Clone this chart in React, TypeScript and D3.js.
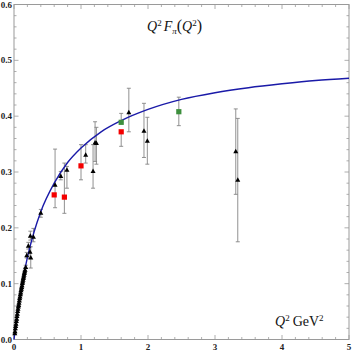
import React from 'react';
import * as d3 from 'd3';

// theory curve (Q^2 on x, Q^2 F_pi on y)
const curveQ2 = [0, 0.05, 0.1, 0.2, 0.3, 0.4, 0.6, 0.8, 1.0, 1.3, 1.6, 2.0, 2.5, 3.0, 3.5, 4.0, 4.5, 5.0];
const curveVal = [0, 0.047, 0.086, 0.147, 0.193, 0.229, 0.28, 0.317, 0.343, 0.372, 0.392, 0.412, 0.43, 0.442, 0.451, 0.458, 0.464, 0.468];

// black triangles: q2, value, error low, error high
const triQ2 = [0.012, 0.015, 0.02, 0.025, 0.03, 0.035, 0.04, 0.045, 0.05, 0.055, 0.06, 0.065, 0.07, 0.075, 0.08, 0.085, 0.09,
  0.095, 0.1, 0.105, 0.11, 0.115, 0.12, 0.125, 0.13, 0.135, 0.14, 0.145, 0.15, 0.155, 0.16, 0.165, 0.175,
  0.19, 0.214, 0.239, 0.25, 0.244, 0.29, 0.4, 0.613, 0.698, 0.79, 1.07, 1.18, 1.21, 1.23, 1.714, 1.94, 1.99, 3.31, 3.34];
const triVal = [0.011, 0.015, 0.02, 0.024, 0.028, 0.033, 0.037, 0.042, 0.046, 0.051, 0.055, 0.059, 0.062, 0.066, 0.07, 0.074, 0.077,
  0.081, 0.084, 0.088, 0.091, 0.094, 0.097, 0.101, 0.104, 0.107, 0.11, 0.113, 0.116, 0.119, 0.122, 0.125, 0.13,
  0.151, 0.168, 0.157, 0.147, 0.186, 0.184, 0.227, 0.277, 0.293, 0.304, 0.331, 0.302, 0.353, 0.352, 0.407, 0.374, 0.356, 0.337, 0.286];
const triLo = [0.01, 0.013, 0.018, 0.022, 0.026, 0.031, 0.035, 0.04, 0.044, 0.049, 0.053, 0.057, 0.06, 0.064, 0.068, 0.072, 0.075,
  0.079, 0.082, 0.086, 0.089, 0.092, 0.095, 0.099, 0.102, 0.105, 0.108, 0.111, 0.114, 0.117, 0.12, 0.122, 0.127,
  0.146, 0.162, 0.145, 0.128, 0.178, 0.175, 0.219, 0.236, 0.286, 0.271, 0.316, 0.271, 0.319, 0.314, 0.372, 0.326, 0.314, 0.26, 0.175];
const triHi = [0.012, 0.017, 0.022, 0.026, 0.03, 0.035, 0.039, 0.044, 0.048, 0.053, 0.057, 0.061, 0.064, 0.068, 0.072, 0.076, 0.079,
  0.083, 0.086, 0.09, 0.093, 0.096, 0.099, 0.103, 0.106, 0.109, 0.112, 0.115, 0.118, 0.121, 0.124, 0.128, 0.133,
  0.156, 0.174, 0.166, 0.166, 0.194, 0.199, 0.233, 0.341, 0.301, 0.31, 0.349, 0.349, 0.39, 0.38, 0.45, 0.423, 0.398, 0.413, 0.396];

// red squares
const redQ2 = [0.6, 0.752, 1.0, 1.6];
const redVal = [0.259, 0.255, 0.311, 0.372];
const redLo = [0.259, 0.226, 0.286, 0.346];
const redHi = [0.259, 0.316, 0.349, 0.372];

// green squares
const greenQ2 = [1.6, 2.46];
const greenVal = [0.389, 0.408];
const greenLo = [0.389, 0.383];
const greenHi = [0.405, 0.434];

const xTicks = [0, 1, 2, 3, 4, 5];
const yTicks = [0, 0.1, 0.2, 0.3, 0.4, 0.5, 0.6];

const W = 352;
const H = 352;
const left = 14, right = 349, top = 4.5, bottom = 339.5;
const frameColor = '#9a9a9a';
const barColor = '#858585';
const serif = '"Liberation Serif", "DejaVu Serif", serif';

export default function App() {
  const x = d3.scaleLinear().domain([0, 5]).range([left, right]);
  const y = d3.scaleLinear().domain([0, 0.6]).range([bottom, top]);

  const curvePts: [number, number][] = curveQ2.map((q, i) => [q, curveVal[i]]);
  const line = d3.line<[number, number]>()
    .x((d) => x(d[0]))
    .y((d) => y(d[1]))
    .curve(d3.curveMonotoneX);

  const xMinor = d3.range(0, 5.001, 0.2);
  const yMinor = d3.range(0, 0.6001, 0.02);

  const errorBar = (q: number, lo: number, hi: number, key: string) => {
    if (hi - lo < 0.001) return null;
    const cx = x(q);
    return (
      <g key={key} stroke={barColor} strokeWidth={0.9}>
        <line x1={cx} x2={cx} y1={y(lo)} y2={y(hi)} />
        <line x1={cx - 2} x2={cx + 2} y1={y(lo)} y2={y(lo)} />
        <line x1={cx - 2} x2={cx + 2} y1={y(hi)} y2={y(hi)} />
      </g>
    );
  };

  const tri = (q: number, v: number) => {
    const cx = x(q), cy = y(v), s = 2.5;
    return `M${cx},${cy - s} L${cx + s},${cy + s * 0.8} L${cx - s},${cy + s * 0.8} Z`;
  };

  return (
    <svg width={W} height={H} style={{ position: 'absolute', left: 0, top: 0, background: '#fff' }}>
      {/* frame */}
      <rect x={left} y={top} width={right - left} height={bottom - top} fill="none" stroke={frameColor} strokeWidth={1} />

      {/* x ticks, bottom and top, inward */}
      {xMinor.map((t) => {
        const major = Math.abs(t - Math.round(t)) < 1e-6;
        const len = major ? 4.5 : 2.5;
        return (
          <g key={'xt' + t} stroke={frameColor} strokeWidth={0.8}>
            <line x1={x(t)} x2={x(t)} y1={bottom} y2={bottom - len} />
            <line x1={x(t)} x2={x(t)} y1={top} y2={top + len} />
          </g>
        );
      })}
      {/* y ticks, left and right, inward */}
      {yMinor.map((t) => {
        const major = Math.abs(t * 10 - Math.round(t * 10)) < 1e-6;
        const len = major ? 4.5 : 2.5;
        return (
          <g key={'yt' + t} stroke={frameColor} strokeWidth={0.8}>
            <line x1={left} x2={left + len} y1={y(t)} y2={y(t)} />
            <line x1={right} x2={right - len} y1={y(t)} y2={y(t)} />
          </g>
        );
      })}

      {/* tick labels */}
      {xTicks.map((t) => (
        <text key={'xl' + t} x={x(t)} y={350} textAnchor="middle" fontFamily={serif} fontSize={9} fontWeight="bold" fill="#222">
          {t}
        </text>
      ))}
      {yTicks.map((t) => (
        <text key={'yl' + t} x={left - 2} y={y(t) + 3} textAnchor="end" fontFamily={serif} fontSize={9} fontWeight="bold" fill="#222">
          {t.toFixed(1)}
        </text>
      ))}

      {/* error bars */}
      {triQ2.map((q, i) => errorBar(q, triLo[i], triHi[i], 'te' + i))}
      {redQ2.map((q, i) => errorBar(q, redLo[i], redHi[i], 're' + i))}
      {greenQ2.map((q, i) => errorBar(q, greenLo[i], greenHi[i], 'ge' + i))}

      {/* theory curve */}
      <path d={line(curvePts) || ''} fill="none" stroke="#1a1aa8" strokeWidth={1.4} />

      {/* markers */}
      {redQ2.map((q, i) => (
        <rect key={'r' + i} x={x(q) - 2.6} y={y(redVal[i]) - 2.6} width={5.2} height={5.2} fill="#f40000" />
      ))}
      {greenQ2.map((q, i) => (
        <rect key={'g' + i} x={x(q) - 2.6} y={y(greenVal[i]) - 2.6} width={5.2} height={5.2} fill="#3d8f3d" />
      ))}
      {triQ2.map((q, i) => (
        <path key={'t' + i} d={tri(q, triVal[i])} fill="#000" />
      ))}

      {/* title */}
      <text x={147} y={31} fontFamily={serif} fontSize={14} fill="#111">
        <tspan fontStyle="italic">Q</tspan>
        <tspan dy={-5} fontSize={9}>2</tspan>
        <tspan dy={5} fontStyle="italic" dx={2}>F</tspan>
        <tspan dy={3} fontSize={9} fontStyle="italic">π</tspan>
        <tspan dy={-3} fontSize={16}>(</tspan>
        <tspan fontStyle="italic">Q</tspan>
        <tspan dy={-5} fontSize={9}>2</tspan>
        <tspan dy={5} fontSize={16}>)</tspan>
      </text>

      {/* axis label */}
      <text x={275} y={326} fontFamily={serif} fontSize={14} fill="#111">
        <tspan fontStyle="italic">Q</tspan>
        <tspan dy={-5} fontSize={9}>2</tspan>
        <tspan dy={5} dx={3}>GeV</tspan>
        <tspan dy={-5} fontSize={9}>2</tspan>
      </text>
    </svg>
  );
}
